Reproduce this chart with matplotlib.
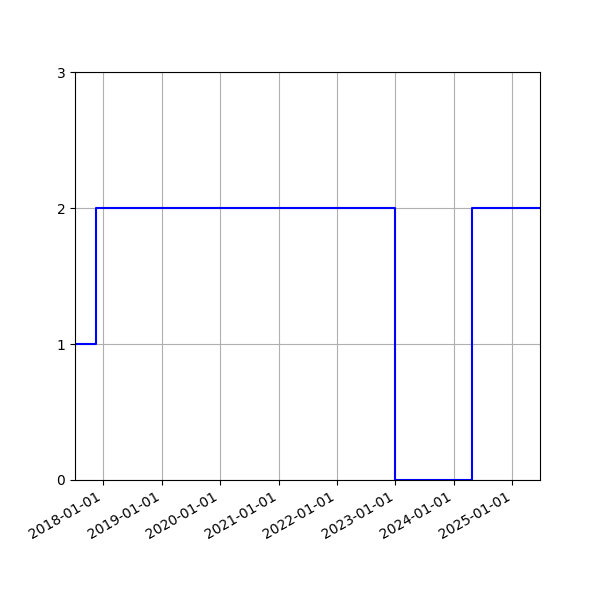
import matplotlib
matplotlib.use("Agg")
import matplotlib.pyplot as plt
import matplotlib.dates as mdates
import numpy as np

dates = ["2017-07-08", "2017-11-18", "2023-01-01", "2024-04-22", "2025-06-23"]
values = [1, 2, 0, 2, 2]

x = np.array(dates, dtype="datetime64[D]")

fig, ax = plt.subplots(figsize=(6, 6), dpi=100)
ax.plot(x, values, drawstyle="steps-post", color="blue")
ax.set_xlim(x[0], x[-1])
ax.set_ylim(0, 3)
ax.set_yticks([0, 1, 2, 3])
ax.xaxis.set_major_locator(mdates.YearLocator())
ax.xaxis.set_major_formatter(mdates.DateFormatter("%Y-%m-%d"))
ax.grid(True)
fig.autofmt_xdate()
fig.savefig("out.png")
